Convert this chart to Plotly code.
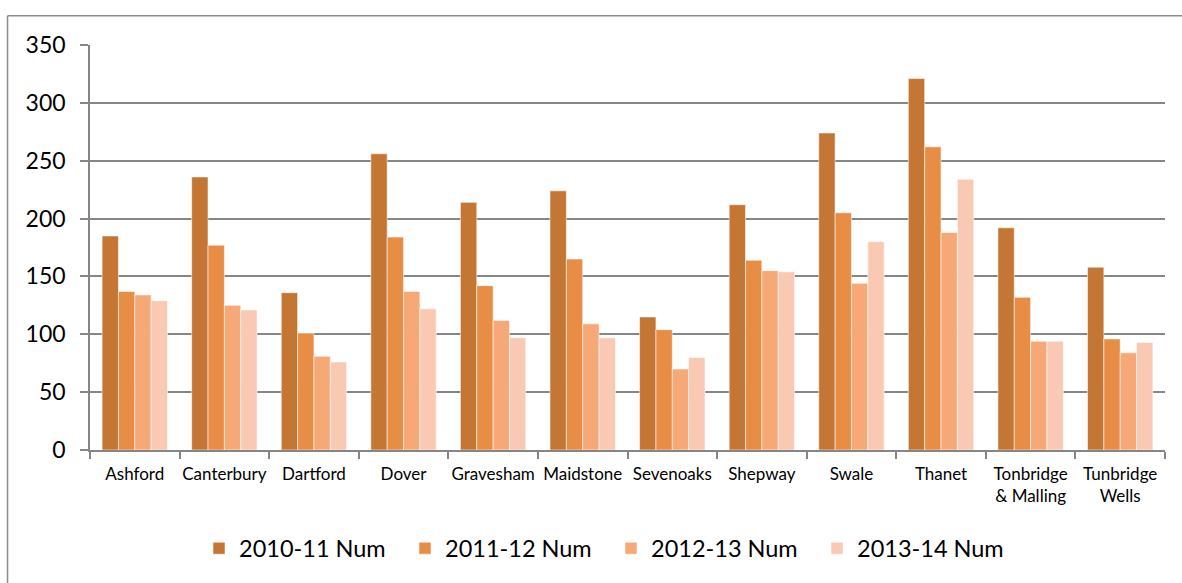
import plotly.graph_objects as go

categories = ["Ashford", "Canterbury", "Dartford", "Dover", "Gravesham", "Maidstone",
              "Sevenoaks", "Shepway", "Swale", "Thanet", "Tonbridge<br>& Malling", "Tunbridge<br>Wells"]
series_names = ["2010-11 Num", "2011-12 Num", "2012-13 Num", "2013-14 Num"]
v2010 = [185, 236, 136, 256, 214, 224, 115, 212, 274, 321, 192, 158]
v2011 = [137, 177, 101, 184, 142, 165, 104, 164, 205, 262, 132, 96]
v2012 = [134, 125, 81, 137, 112, 109, 70, 155, 144, 188, 94, 84]
v2013 = [129, 121, 76, 122, 97, 97, 80, 154, 180, 234, 94, 93]
colors = ["#C47634", "#E88D45", "#F6A877", "#F9C9B4"]
y_ticks = [0, 50, 100, 150, 200, 250, 300, 350]

fig = go.Figure()
for name, vals, col in zip(series_names, [v2010, v2011, v2012, v2013], colors):
    fig.add_trace(go.Bar(x=categories, y=vals, name=name, marker_color=col,
                         marker_line=dict(color="rgba(255,255,255,0.55)", width=1)))

font = "Lato, 'Open Sans', sans-serif"
fig.update_layout(
    width=1182, height=583,
    margin=dict(l=90, r=17, t=45, b=131),
    paper_bgcolor="white", plot_bgcolor="white",
    barmode="group", bargap=0.27, bargroupgap=0,
    font=dict(family=font, color="#000000"),
    showlegend=True,
    legend=dict(orientation="h", x=0.1014, xanchor="left", y=-0.243, yanchor="middle",
                font=dict(size=23.5, family=font), entrywidth=161, itemwidth=30,
                traceorder="normal", bgcolor="rgba(0,0,0,0)"),
    shapes=[
        dict(type="line", xref="paper", yref="paper", x0=-0.0767, x1=1.1, y0=1.0725, y1=1.0725,
             line=dict(color="#8C8C8C", width=1.5)),
        dict(type="line", xref="paper", yref="paper", x0=-0.0767, x1=-0.0767, y0=1.0725, y1=-0.35,
             line=dict(color="#8C8C8C", width=1.5)),
    ],
)
fig.update_xaxes(
    type="category", showline=True, linecolor="#868686", linewidth=1.5,
    ticks="outside", tickson="boundaries", ticklen=7, tickcolor="#868686", tickwidth=1.5,
    tickfont=dict(size=17, family=font), showgrid=False, ticklabelstandoff=8, tickangle=0,
)
fig.update_yaxes(
    range=[0, 350], tickvals=y_ticks, showline=True, linecolor="#868686", linewidth=1.5,
    ticks="outside", ticklen=8, tickcolor="#868686", tickwidth=1.5,
    showgrid=True, gridcolor="#868686", gridwidth=1.5, zeroline=False,
    tickfont=dict(size=23, family=font), ticklabelstandoff=10,
)

fig.write_html("out.html", config={"displayModeBar": False},
               post_script="document.body.style.margin='0';document.body.style.overflow='hidden';")
